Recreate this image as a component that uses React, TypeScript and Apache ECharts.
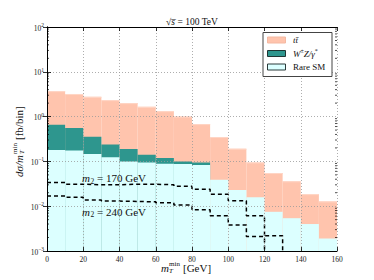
import React, { useEffect, useRef } from "react";
import * as echarts from "echarts";

// ---- data ----
const binStarts = [0, 10, 20, 30, 40, 50, 60, 70, 80, 90, 100, 110, 120, 130, 140, 150];
const binWidth = 10;
// cumulative (stacked) heights per bin, fb/bin
const ttbarTop = [3.7, 3.2, 2.76, 2.33, 2.0, 1.65, 1.32, 1.0, 0.68, 0.35, 0.192, 0.095, 0.055, 0.036, 0.0186, 0.0128];
const wzTop = [0.66, 0.56, 0.357, 0.237, 0.19, 0.141, 0.119, 0.099, 0.095];
const rareTop = [0.18, 0.174, 0.147, 0.123, 0.1, 0.095, 0.089, 0.087, 0.083, 0.039, 0.023, 0.0158, 0.0075, 0.0054, 0.004, 0.0019];
// signal curves (dashed), per bin starting at 0
const sig170 = [0.034, 0.031, 0.030, 0.030, 0.031, 0.031, 0.030, 0.028, 0.024, 0.0186, 0.0132, 0.0061];
const sig240 = [0.017, 0.0158, 0.0137, 0.013, 0.0128, 0.0125, 0.012, 0.0106, 0.0083, 0.0061, 0.0038, 0.0021, 0.0022];
const xTicks = { min: 0, max: 160, interval: 20 };
const yRange = { min: 0.001, max: 100 };
const yMinorTicks = [
  0.002, 0.003, 0.004, 0.005, 0.006, 0.007, 0.008, 0.009,
  0.02, 0.03, 0.04, 0.05, 0.06, 0.07, 0.08, 0.09,
  0.2, 0.3, 0.4, 0.5, 0.6, 0.7, 0.8, 0.9,
  2, 3, 4, 5, 6, 7, 8, 9,
  20, 30, 40, 50, 60, 70, 80, 90,
];

const FONT = "'Liberation Serif', 'DejaVu Serif', serif";
const C_TT = "#ffc4ad";
const C_TT_EDGE = "#ffd6c6";
const C_WZ = "#2e968e";
const C_RARE = "#dcffff";

function histSeries(name: string, tops: number[], fill: string, edge: string | null, z: number) {
  return {
    name,
    type: "custom",
    z,
    encode: { x: [0, 1], y: 2 },
    data: tops.map((v, i) => [binStarts[i], binStarts[i] + binWidth, v]),
    renderItem: (_p: any, api: any) => {
      const a = api.coord([api.value(0), api.value(2)]);
      const b = api.coord([api.value(1), yRange.min]);
      const children: any[] = [
        {
          type: "rect",
          shape: { x: a[0], y: a[1], width: b[0] - a[0], height: b[1] - a[1] },
          style: { fill },
        },
      ];
      if (edge) {
        children.push({
          type: "line",
          shape: { x1: a[0], y1: a[1] + 0.5, x2: b[0], y2: a[1] + 0.5 },
          style: { stroke: edge, lineWidth: 1 },
        });
      }
      return { type: "group", children };
    },
  };
}

function stepLine(name: string, vals: number[]) {
  const pts: number[][] = vals.map((v, i) => [binStarts[i], v]);
  pts.push([binStarts[vals.length], yRange.min]);
  return {
    name,
    type: "line",
    step: "end",
    z: 4,
    showSymbol: false,
    symbol: "none",
    data: pts,
    lineStyle: { color: "#000", width: 1.5, type: [4, 3] },
  };
}

function txt(text: string, x: number, y: number, size: number, opts: any = {}) {
  return {
    type: "text",
    x,
    y,
    z: 100,
    style: {
      text,
      fontFamily: FONT,
      fontSize: size,
      fontStyle: opts.italic ? "italic" : "normal",
      fill: opts.color || "#111",
      align: opts.align || "left",
      verticalAlign: opts.valign || "middle",
    },
  };
}

export default function App() {
  const ref = useRef<HTMLDivElement>(null);
  useEffect(() => {
    if (!ref.current) return;
    const chart = echarts.init(ref.current, null, { renderer: "svg" });
    const axisLine = { show: true, lineStyle: { color: "#000", width: 1 } };
    const tick = { show: true, inside: true, length: 4, lineStyle: { color: "#000", width: 0.8 } };
    const split = { show: true, lineStyle: { color: "#999", width: 0.8, type: [1, 2] } };
    const option: any = {
      animation: false,
      grid: { left: 47, right: 37, top: 27, bottom: 29, containLabel: false },
      xAxis: [
        {
          type: "value", ...xTicks, position: "bottom", z: 5,
          axisLine, axisTick: tick, splitLine: split,
          axisLabel: { color: "#222", fontSize: 7.5, fontFamily: FONT, margin: 4 },
        },
        {
          type: "value", ...xTicks, position: "top", z: 5,
          axisLine, axisTick: tick, splitLine: { show: false }, axisLabel: { show: false },
        },
      ],
      yAxis: [
        {
          type: "log", logBase: 10, ...yRange, position: "left", z: 5,
          axisLine, axisTick: tick, splitLine: split,
          axisLabel: {
            margin: 3,
            fontFamily: FONT,
            formatter: (v: number) => {
              const e = Math.round(Math.log10(v));
              return `{b|10}{s|${e < 0 ? "\u2212" + -e : e}}`;
            },
            rich: {
              b: { fontSize: 7.5, fontFamily: FONT, color: "#222", lineHeight: 10, verticalAlign: "bottom" },
              s: { fontSize: 5.5, fontFamily: FONT, color: "#222", lineHeight: 10, verticalAlign: "top" },
            },
          },
        },
        {
          type: "log", logBase: 10, ...yRange, position: "right", z: 5,
          axisLine, axisTick: tick, splitLine: { show: false }, axisLabel: { show: false },
        },
      ],
      series: [
        histSeries("ttbar", ttbarTop, C_TT, C_TT_EDGE, 1),
        histSeries("WZ", wzTop, C_WZ, null, 2),
        histSeries("Rare SM", rareTop, C_RARE, null, 3),
        stepLine("m2=170", sig170),
        stepLine("m2=240", sig240),
        {
          type: "custom",
          z: 6,
          encode: { x: 0, y: 1 },
          data: yMinorTicks.map((v) => [xTicks.min, v]),
          renderItem: (_p: any, api: any) => {
            const l = api.coord([xTicks.min, api.value(1)]);
            const r = api.coord([xTicks.max, api.value(1)]);
            return {
              type: "group",
              children: [
                { type: "line", shape: { x1: l[0], y1: l[1], x2: l[0] + 2, y2: l[1] }, style: { stroke: "#000", lineWidth: 0.7 } },
                { type: "line", shape: { x1: r[0] - 2, y1: r[1], x2: r[0], y2: r[1] }, style: { stroke: "#000", lineWidth: 0.7 } },
              ],
            };
          },
        },
      ],
      graphic: [
        // title
        {
          type: "text", x: 192, y: 22, z: 100,
          style: {
            text: "{n|\u221a}{i|s\u0305}{n| = 100 TeV}",
            align: "center", verticalAlign: "middle",
            rich: {
              n: { fontFamily: FONT, fontSize: 9.5, fill: "#111" },
              i: { fontFamily: FONT, fontSize: 9.5, fontStyle: "italic", fill: "#111" },
            },
          },
        },
        // x axis name
        txt("m", 161, 268, 11, { italic: true }),
        txt("T", 169, 271, 7, { italic: true }),
        txt("min", 169, 263.5, 7),
        txt("[GeV]", 183, 268, 11),
        // y axis name (rotated)
        {
          type: "group", x: 19, y: 177, rotation: Math.PI / 2, z: 100,
          children: [
            txt("d\u03c3/m", 0, 0, 11, { italic: true }),
            txt("T", 23, 3, 7, { italic: true }),
            txt("min", 23, -4.5, 7),
            txt("[fb/bin]", 37, 0, 11),
          ],
        },
        // annotations
        txt("m", 82, 178, 11, { italic: true }),
        txt("2", 90.5, 181, 7.5),
        txt("= 170 GeV", 97, 178, 11),
        txt("m", 82, 211.5, 11, { italic: true }),
        txt("2", 90.5, 214.5, 7.5),
        txt("= 240 GeV", 97, 211.5, 11),
        // legend
        {
          type: "rect", z: 100,
          shape: { x: 263, y: 32.5, width: 69, height: 44 },
          style: { fill: "#fff", stroke: "#444", lineWidth: 1 },
        },
        { type: "rect", z: 101, shape: { x: 267.5, y: 37, width: 18, height: 6 }, style: { fill: C_TT, stroke: "#f4b9a2", lineWidth: 1 } },
        { type: "rect", z: 101, shape: { x: 267.5, y: 50.5, width: 18, height: 6 }, style: { fill: C_WZ, stroke: "#1f3533", lineWidth: 1 } },
        { type: "rect", z: 101, shape: { x: 267.5, y: 64, width: 18, height: 6 }, style: { fill: C_RARE, stroke: "#2a3a3a", lineWidth: 1 } },
        {
          type: "text", x: 293, y: 40, z: 101,
          style: { text: "tt\u0304", fontFamily: FONT, fontSize: 9, fontStyle: "italic", fill: "#111", verticalAlign: "middle" },
        },
        {
          type: "text", x: 293, y: 53.5, z: 101,
          style: {
            text: "{i|W}{s|\u00b1}{i|Z/\u03b3}{s|*}",
            verticalAlign: "middle",
            rich: {
              i: { fontFamily: FONT, fontSize: 9, fontStyle: "italic", fill: "#111", lineHeight: 11 },
              s: { fontFamily: FONT, fontSize: 6, fill: "#111", lineHeight: 11, verticalAlign: "top" },
            },
          },
        },
        {
          type: "text", x: 293, y: 67, z: 101,
          style: { text: "Rare SM", fontFamily: FONT, fontSize: 9, fill: "#111", verticalAlign: "middle" },
        },
      ],
    };
    chart.setOption(option);
    return () => chart.dispose();
  }, []);
  return <div ref={ref} style={{ position: "absolute", left: 0, top: 0, width: 374, height: 280 }} />;
}
